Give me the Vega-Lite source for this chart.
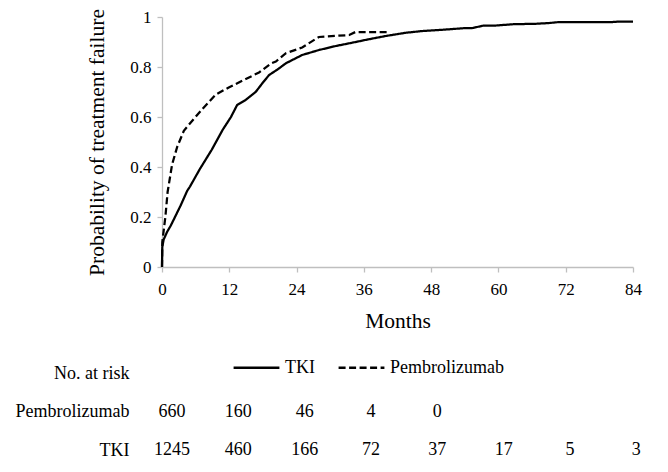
{
  "$schema": "https://vega.github.io/schema/vega-lite/v6.json",
  "padding": {"left": 15, "top": 8, "right": 25, "bottom": 12},
  "background": "white",
  "config": {
    "font": "Liberation Serif, Times New Roman, serif",
    "view": {"stroke": null},
    "axis": {"grid": false, "labelFont": "Liberation Serif, Times New Roman, serif", "titleFont": "Liberation Serif, Times New Roman, serif"},
    "legend": {"labelFont": "Liberation Serif, Times New Roman, serif"},
    "text": {"font": "Liberation Serif, Times New Roman, serif"}
  },
  "bounds": "flush",
  "spacing": 106,
  "resolve": {"scale": {"x": "independent", "y": "independent"}},
  "vconcat": [
    {
      "width": 471,
      "height": 250,
      "data": {"values": [
        {"group": "TKI", "month": 0, "prob": 0},
        {"group": "TKI", "month": 0.05, "prob": 0.08},
        {"group": "TKI", "month": 0.3, "prob": 0.11},
        {"group": "TKI", "month": 0.9, "prob": 0.14},
        {"group": "TKI", "month": 1.5, "prob": 0.163},
        {"group": "TKI", "month": 2.1, "prob": 0.19},
        {"group": "TKI", "month": 3.3, "prob": 0.245},
        {"group": "TKI", "month": 4.5, "prob": 0.305},
        {"group": "TKI", "month": 5.0, "prob": 0.322},
        {"group": "TKI", "month": 6.7, "prob": 0.39},
        {"group": "TKI", "month": 8.9, "prob": 0.47},
        {"group": "TKI", "month": 10.8, "prob": 0.548},
        {"group": "TKI", "month": 12.3, "prob": 0.6},
        {"group": "TKI", "month": 13.4, "prob": 0.648},
        {"group": "TKI", "month": 14.9, "prob": 0.668},
        {"group": "TKI", "month": 16.7, "prob": 0.7},
        {"group": "TKI", "month": 17.9, "prob": 0.735},
        {"group": "TKI", "month": 19.1, "prob": 0.768},
        {"group": "TKI", "month": 20.6, "prob": 0.79},
        {"group": "TKI", "month": 22.1, "prob": 0.815},
        {"group": "TKI", "month": 25.0, "prob": 0.848},
        {"group": "TKI", "month": 28.0, "prob": 0.868},
        {"group": "TKI", "month": 31.0, "prob": 0.884},
        {"group": "TKI", "month": 33.9, "prob": 0.897},
        {"group": "TKI", "month": 36.9, "prob": 0.911},
        {"group": "TKI", "month": 39.9, "prob": 0.924},
        {"group": "TKI", "month": 43.5, "prob": 0.937},
        {"group": "TKI", "month": 46.5, "prob": 0.944},
        {"group": "TKI", "month": 50.1, "prob": 0.949},
        {"group": "TKI", "month": 53.7, "prob": 0.955},
        {"group": "TKI", "month": 55.4, "prob": 0.956},
        {"group": "TKI", "month": 57.2, "prob": 0.965},
        {"group": "TKI", "month": 59.6, "prob": 0.966},
        {"group": "TKI", "month": 62.6, "prob": 0.971},
        {"group": "TKI", "month": 66.8, "prob": 0.973},
        {"group": "TKI", "month": 69.1, "prob": 0.976},
        {"group": "TKI", "month": 70.9, "prob": 0.98},
        {"group": "TKI", "month": 80.4, "prob": 0.98},
        {"group": "TKI", "month": 81.6, "prob": 0.982},
        {"group": "TKI", "month": 84, "prob": 0.982},
        {"group": "Pembrolizumab", "month": 0, "prob": 0},
        {"group": "Pembrolizumab", "month": 0.05, "prob": 0.1},
        {"group": "Pembrolizumab", "month": 0.6, "prob": 0.2},
        {"group": "Pembrolizumab", "month": 1.0, "prob": 0.3},
        {"group": "Pembrolizumab", "month": 1.8, "prob": 0.41},
        {"group": "Pembrolizumab", "month": 2.7, "prob": 0.48},
        {"group": "Pembrolizumab", "month": 3.9, "prob": 0.545},
        {"group": "Pembrolizumab", "month": 5.4, "prob": 0.585},
        {"group": "Pembrolizumab", "month": 7.2, "prob": 0.632},
        {"group": "Pembrolizumab", "month": 9.6, "prob": 0.69},
        {"group": "Pembrolizumab", "month": 11.9, "prob": 0.718},
        {"group": "Pembrolizumab", "month": 14.3, "prob": 0.745},
        {"group": "Pembrolizumab", "month": 17.3, "prob": 0.778},
        {"group": "Pembrolizumab", "month": 19.5, "prob": 0.815},
        {"group": "Pembrolizumab", "month": 20.3, "prob": 0.822},
        {"group": "Pembrolizumab", "month": 22.1, "prob": 0.855},
        {"group": "Pembrolizumab", "month": 25.0, "prob": 0.878},
        {"group": "Pembrolizumab", "month": 27.4, "prob": 0.912},
        {"group": "Pembrolizumab", "month": 28.0, "prob": 0.92},
        {"group": "Pembrolizumab", "month": 33.4, "prob": 0.928},
        {"group": "Pembrolizumab", "month": 34.5, "prob": 0.94},
        {"group": "Pembrolizumab", "month": 40.5, "prob": 0.94}
      ]},
      "mark": {"type": "line", "color": "black", "strokeWidth": 2.25, "clip": false},
      "encoding": {
        "x": {
          "field": "month", "type": "quantitative",
          "scale": {"domain": [0, 84], "nice": false},
          "axis": {
            "values": [0, 12, 24, 36, 48, 60, 72, 84],
            "domainColor": "#bfbfbf", "domainWidth": 1.3,
            "tickColor": "#bfbfbf", "tickWidth": 1.3, "tickSize": 5,
            "labelFontSize": 17, "labelColor": "black", "labelPadding": 9, "labelFlush": false,
            "title": "Months", "titleFontSize": 21.5, "titleFontWeight": "normal", "titleColor": "black", "titlePadding": 13
          }
        },
        "y": {
          "field": "prob", "type": "quantitative",
          "scale": {"domain": [0, 1], "nice": false},
          "axis": {
            "values": [0, 0.2, 0.4, 0.6, 0.8, 1], "format": "~g",
            "domainColor": "#bfbfbf", "domainWidth": 1.3,
            "tickColor": "#bfbfbf", "tickWidth": 1.3, "tickSize": 5,
            "labelFontSize": 17, "labelColor": "black", "labelPadding": 6,
            "title": "Probability of treatment failure", "titleFontSize": 21.5, "titleFontWeight": "normal", "titleColor": "black", "titlePadding": 21
          }
        },
        "strokeDash": {
          "field": "group", "type": "nominal",
          "scale": {"domain": ["TKI", "Pembrolizumab"], "range": [[1, 0], [7, 3.5]]},
          "legend": {
            "title": null, "orient": "none", "legendX": 70, "legendY": 326, "direction": "horizontal",
            "symbolType": "stroke", "symbolSize": 2100, "symbolStrokeWidth": 2.5, "symbolStrokeColor": "black",
            "labelFontSize": 18, "labelColor": "black", "labelOffset": 4, "columnPadding": 18, "labelLimit": 0
          }
        },
        "order": {"field": "month", "type": "quantitative"}
      }
    },
    {
      "width": 471,
      "height": 77,
      "data": {"values": [
        {"group": "Pembrolizumab", "month": 0, "n": 660},
        {"group": "Pembrolizumab", "month": 12, "n": 160},
        {"group": "Pembrolizumab", "month": 24, "n": 46},
        {"group": "Pembrolizumab", "month": 36, "n": 4},
        {"group": "Pembrolizumab", "month": 48, "n": 0},
        {"group": "TKI", "month": 0, "n": 1245},
        {"group": "TKI", "month": 12, "n": 460},
        {"group": "TKI", "month": 24, "n": 166},
        {"group": "TKI", "month": 36, "n": 72},
        {"group": "TKI", "month": 48, "n": 37},
        {"group": "TKI", "month": 60, "n": 17},
        {"group": "TKI", "month": 72, "n": 5},
        {"group": "TKI", "month": 84, "n": 3}
      ]},
      "mark": {"type": "text", "fontSize": 18, "color": "black", "align": "center", "baseline": "middle", "font": "Liberation Serif, Times New Roman, serif"},
      "encoding": {
        "x": {"field": "month", "type": "quantitative", "scale": {"domain": [-1.8, 83.4], "nice": false, "zero": false}, "axis": null},
        "y": {
          "field": "group", "type": "nominal",
          "scale": {"type": "point", "domain": ["No. at risk", "Pembrolizumab", "TKI"], "padding": 0},
          "axis": {"domain": false, "ticks": false, "labelFontSize": 18, "labelPadding": 33, "labelColor": "black", "title": null}
        },
        "text": {"field": "n", "type": "quantitative"}
      }
    }
  ]
}
